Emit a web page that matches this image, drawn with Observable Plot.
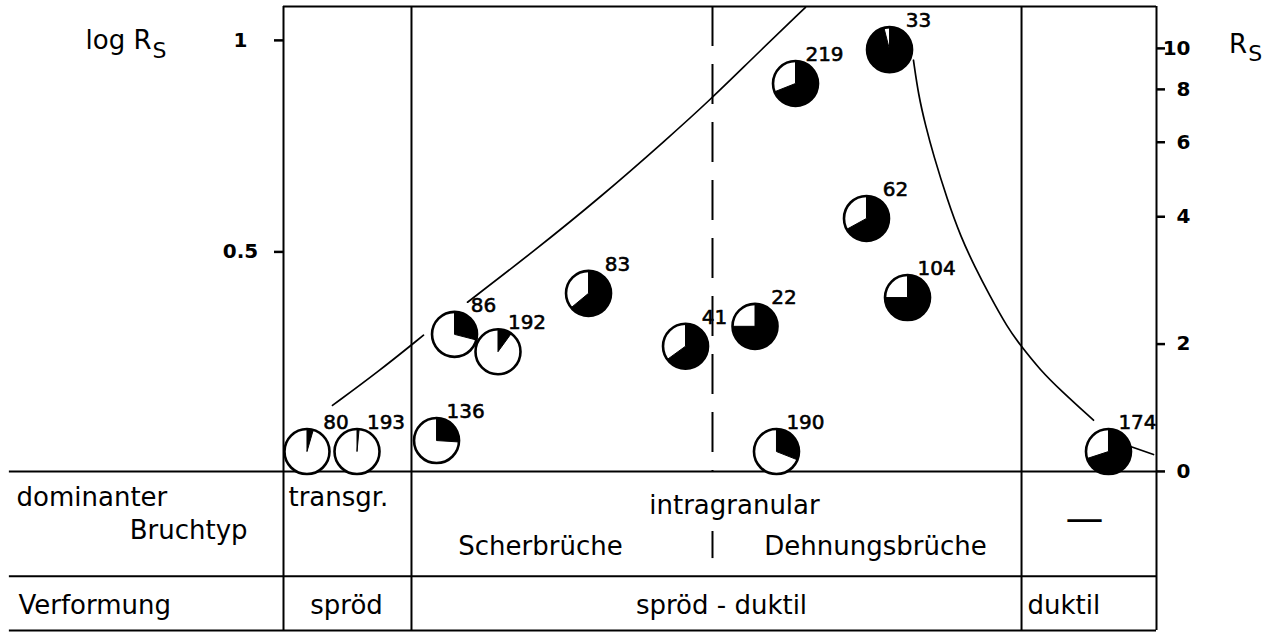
<!DOCTYPE html>
<html><head><meta charset="utf-8">
<script src="https://cdn.jsdelivr.net/npm/d3@7"></script>
<script src="https://cdn.jsdelivr.net/npm/@observablehq/plot@0.6"></script>
<style>html,body{margin:0;padding:0;background:#fff;} #chart svg{display:block;}</style>
</head><body><div id="chart"></div>
<script>
// ---- samples (position along the deformation sequence, log Rs, share of black sector) ----
const sampleIds  = ["80","193","136","86","192","83","41","22","190","219","33","62","104","174"];
const samplePos  = [2.69, 8.42, 17.53, 19.59, 24.57, 34.94, 46.05, 54.01, 56.47, 58.65, 69.42, 66.78, 71.48, 94.5];
const sampleLog  = [0.047, 0.047, 0.073, 0.324, 0.283, 0.421, 0.296, 0.343, 0.047, 0.917, 0.997, 0.598, 0.411, 0.047];
const blackShare = [0.045, 0.015, 0.26, 0.29, 0.10, 0.64, 0.65, 0.75, 0.31, 0.69, 0.96, 0.67, 0.75, 0.70];

// ---- hand-drawn trend lines ----
const riseLowPos  = [5.61, 10.88, 16.04];
const riseLowLog  = [0.156, 0.236, 0.322];
const riseHighPos = [21.08, 28.64, 36.31, 43.99, 48.91, 53.84, 59.79];
const riseHighLog = [0.400, 0.520, 0.648, 0.787, 0.879, 0.979, 1.097];
const fallPos = [72.16, 72.74, 73.54, 74.46, 76.06, 77.55, 79.27, 80.76, 82.93, 84.42, 86.71, 89.0, 92.78];
const fallLog = [0.972, 0.889, 0.818, 0.747, 0.641, 0.556, 0.480, 0.421, 0.340, 0.298, 0.239, 0.192, 0.121];
const tailPos = [97.02, 99.66];
const tailLog = [0.059, 0.040];

// ---- axes ----
const logTicks = [0.5, 1];
const logTickLabels = ["0.5", "1"];
const rsTickValues = [1, 2, 4, 6, 8, 10];
const rsTickLabels = ["0", "2", "4", "6", "8", "10"];

// ---- frame / table structure ----
const xDomain = [0, 100];
const yDomain = [-0.376, 1.099];
const tableLeft = -31.4;
const columnEdges = [0, 14.66, 84.54, 100];
const transitionPos = 49.14;
const rowEdges = [0, -0.248, -0.376];

// ---- table texts ----
const cellTexts   = ["dominanter", "Bruchtyp", "transgr.", "intragranular", "Scherbrüche", "Dehnungsbrüche", "Verformung", "spröd", "spröd - duktil", "duktil"];
const cellX       = [-30.58, -4.12, 0.57, 51.66, 29.44, 67.81, -30.36, 7.22, 50.17, 85.22];
const cellY       = [-0.0615, -0.1395, -0.0615, -0.0804, -0.1773, -0.1773, -0.3168, -0.3168, -0.3168, -0.3168];
const cellAnchor  = ["start", "end", "start", "middle", "middle", "middle", "start", "middle", "middle", "start"];
const noneMark = "—";
const noneX = 91.75, noneY = -0.112;

const samples = sampleIds.map((id, i) => ({id, pos: samplePos[i], log: sampleLog[i], f: blackShare[i]}));
const trend = [
  ...riseLowPos.map((p, i) => ({seg: "a", pos: p, log: riseLowLog[i]})),
  ...riseHighPos.map((p, i) => ({seg: "b", pos: p, log: riseHighLog[i]})),
  ...fallPos.map((p, i) => ({seg: "c", pos: p, log: fallLog[i]})),
  ...tailPos.map((p, i) => ({seg: "d", pos: p, log: tailLog[i]}))
];
const cells = cellTexts.map((t, i) => ({t, x: cellX[i], y: cellY[i], a: cellAnchor[i]}));

const pie = f => ({
  draw(ctx, size) {
    const r = Math.sqrt(size / Math.PI);
    const a0 = -Math.PI / 2;
    ctx.moveTo(0, 0);
    ctx.lineTo(0, -r);
    ctx.arc(0, 0, r, a0, a0 + 2 * Math.PI * f);
    ctx.closePath();
  }
});

const rsLabel = v => {
  let best = 0;
  rsTickValues.forEach((t, i) => { if (Math.abs(Math.log10(t) - v) < Math.abs(Math.log10(rsTickValues[best]) - v)) best = i; });
  return rsTickLabels[best];
};
const logLabel = v => logTickLabels[logTicks.indexOf(v)];

const R = 22.5;
const F = "DejaVu Sans";
const cellMarks = ["start", "middle", "end"].map(a =>
  Plot.text(cells.filter(d => d.a === a), {x: "x", y: "y", text: "t", textAnchor: a, fontSize: 26, fill: "black"}));

const chart = Plot.plot({
  width: 1273, height: 632,
  marginLeft: 283, marginRight: 117, marginTop: 6, marginBottom: 2,
  x: {domain: xDomain, axis: null},
  y: {domain: yDomain},
  style: {fontFamily: F, background: "white", color: "black", overflow: "visible"},
  marks: [
    Plot.ruleX(columnEdges, {y1: yDomain[0], y2: yDomain[1], strokeWidth: 2}),
    Plot.ruleY(rowEdges, {x1: tableLeft, x2: xDomain[1], strokeWidth: 2}),
    Plot.ruleY([yDomain[1]], {x1: xDomain[0], x2: xDomain[1], strokeWidth: 2}),
    Plot.ruleX([transitionPos], {y1: yDomain[1], y2: 0, strokeWidth: 2, strokeDasharray: "40,18"}),
    Plot.ruleX([transitionPos], {y1: -0.142, y2: -0.206, strokeWidth: 2}),
    Plot.line(trend, {x: "pos", y: "log", z: "seg", curve: "basis", strokeWidth: 1.7}),
    Plot.dot(samples, {x: "pos", y: "log", r: R, fill: "white"}),
    ...samples.map(d => Plot.dot([d], {x: "pos", y: "log", r: R, symbol: pie(d.f), fill: "black", stroke: "black", strokeWidth: 1})),
    Plot.dot(samples, {x: "pos", y: "log", r: R, fill: "none", stroke: "black", strokeWidth: 2.6}),
    Plot.text(samples, {x: "pos", y: "log", text: "id", dx: 29, dy: -29, fontSize: 20, fill: "black", stroke: "black", strokeWidth: 0.6}),
    Plot.axisY(logTicks, {anchor: "left", label: null, tickSize: 9, tickPadding: 34, textAnchor: "middle", dy: -8, fontSize: 20, fontWeight: "bold", strokeWidth: 2.5, tickFormat: logLabel}),
    Plot.axisY(rsTickValues.map(Math.log10), {anchor: "right", label: null, tickSize: 8, tickPadding: 26, textAnchor: "end", fontSize: 20, fontWeight: "bold", strokeWidth: 2.5, tickFormat: rsLabel}),
    ...cellMarks,
    Plot.text([noneMark], {x: noneX, y: noneY, fontSize: 38}),
    Plot.text(["log R"], {x: -22.68, y: 1.019, textAnchor: "start", fontSize: 26}),
    Plot.text(["S"], {x: -15.0, y: 0.995, textAnchor: "start", fontSize: 22}),
    Plot.text(["R"], {x: 108.3, y: 1.0095, textAnchor: "start", fontSize: 26}),
    Plot.text(["S"], {x: 110.5, y: 0.988, textAnchor: "start", fontSize: 22})
  ]
});
document.getElementById("chart").appendChild(chart);
</script>
</body></html>
